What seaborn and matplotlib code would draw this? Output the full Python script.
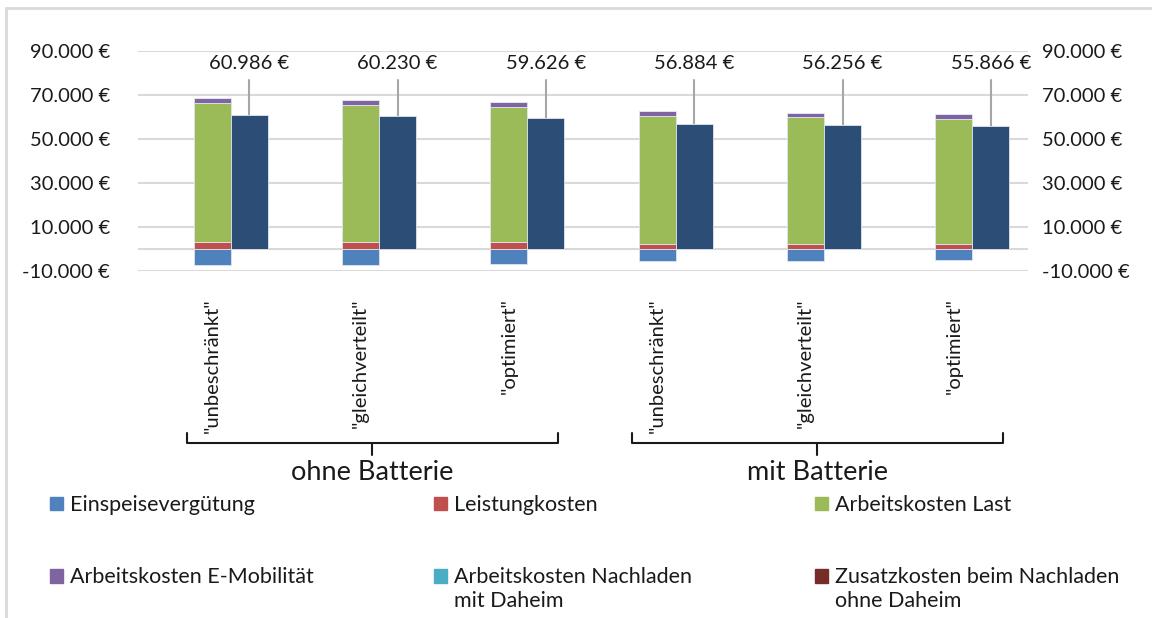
import numpy as np
import seaborn as sns
import matplotlib.pyplot as plt
from matplotlib.patches import Rectangle, Patch
from matplotlib.lines import Line2D
from matplotlib.transforms import blended_transform_factory

# data (EUR)
szenarien = ['"unbeschränkt"', '"gleichverteilt"', '"optimiert"',
             '"unbeschränkt"', '"gleichverteilt"', '"optimiert"']
gruppen = ["ohne Batterie", "mit Batterie"]
einspeise = [-7500, -7300, -7000, -5700, -5500, -5300]
leistung = [3200, 3200, 3200, 2100, 2100, 2100]
arbeit_last = [63200, 62200, 61400, 58400, 57700, 56900]
arbeit_emob = [2100, 2100, 2000, 2000, 1900, 2000]
nachladen_daheim = [0, 0, 0, 0, 0, 0]
zusatz_ohne = [0, 0, 0, 0, 0, 0]
gesamt = [60986, 60230, 59626, 56884, 56256, 55866]

sns.set_theme(style="white")
plt.rcParams["font.family"] = ["Lato", "DejaVu Sans"]
txt = "#1a1a1a"
grid_c = "#d9d9d9"

fig = plt.figure(figsize=(11.52, 6.18), dpi=100)
ax = fig.add_axes([138 / 1152, 1 - 270.7 / 618, 890 / 1152, 220 / 618])

x = np.arange(len(szenarien))
w = 0.25
edge = dict(edgecolor="#dfe6ee", linewidth=0.6)

ax.bar(x, einspeise, w, color="#4F81BD", zorder=3, **edge)
bottom = np.zeros(len(x))
for vals, col in [(leistung, "#C0504D"), (arbeit_last, "#9BBB59"),
                  (arbeit_emob, "#8064A2"), (nachladen_daheim, "#4BACC6"),
                  (zusatz_ohne, "#772C2A")]:
    ax.bar(x, vals, w, bottom=bottom, color=col, zorder=3, **edge)
    bottom += np.array(vals)
ax.bar(x + w, gesamt, w, color="#2C4D75", zorder=3, **edge)

# value labels with leader lines
for xi, v in zip(x + w, gesamt):
    ax.plot([xi, xi], [v, 76500], color="#a6a6a6", lw=1.5, zorder=2)
    ax.text(xi, 84300, f"{v:,.0f} €".replace(",", "."), ha="center",
            va="center", fontsize=14.5, color=txt)

ticks = np.arange(-10000, 90001, 20000)
fmt = [f"{t:,.0f} €".replace(",", ".") for t in ticks]
ax.set_ylim(-10000, 90000)
ax.set_xlim(-0.5, len(x) - 0.5)
ax.set_yticks(ticks)
ax.set_yticklabels(fmt, fontsize=14.5, color=txt)
ax.yaxis.grid(True, color=grid_c, lw=1.5, zorder=0)
ax.axhline(0, color=grid_c, lw=1.5, zorder=1)
ax.set_xticks(x)
ax.set_xticklabels(szenarien, rotation=90, fontsize=14.5, color=txt, va="top")
ax.tick_params(axis="x", length=0, pad=20)
ax.tick_params(axis="y", length=0, pad=20)
for s in ax.spines.values():
    s.set_visible(False)

ax2 = ax.twinx()
ax2.set_ylim(ax.get_ylim())
ax2.set_yticks(ticks)
ax2.set_yticklabels(fmt, fontsize=14.5, color=txt)
ax2.tick_params(axis="y", length=0, pad=10)
for s in ax2.spines.values():
    s.set_visible(False)

# group brackets
tr = blended_transform_factory(ax.transData, fig.transFigure)
fy = lambda p: 1 - p / 618
for (i0, i1), name in zip([(0, 2), (3, 5)], gruppen):
    a, b = i0 - 0.17, i1 + 0.33
    m = (a + b) / 2
    fig.add_artist(Line2D([a, a, b, b], [fy(433), fy(443), fy(443), fy(433)],
                          transform=tr, color=txt, lw=1.5))
    fig.add_artist(Line2D([m, m], [fy(443), fy(455)], transform=tr,
                          color=txt, lw=1.5))
    fig.text(m, fy(473), name, transform=tr, ha="center", va="center",
             fontsize=19.5, color=txt)

# legend, three columns (second text lines set below the entry)
cols = [
    [("Einspeisevergütung", "#4F81BD", ""), ("Arbeitskosten E-Mobilität", "#8064A2", "")],
    [("Leistungkosten", "#C0504D", ""), ("Arbeitskosten Nachladen", "#4BACC6", "mit Daheim")],
    [("Arbeitskosten Last", "#9BBB59", ""), ("Zusatzkosten beim Nachladen", "#772C2A", "ohne Daheim")],
]
for xpos, items in zip([50, 434, 815], cols):
    handles = [Patch(color=c) for _, c, _ in items]
    labels = [l for l, _, _ in items]
    fig.legend(handles, labels, loc="upper left",
               bbox_to_anchor=(xpos / 1152, fy(495)), frameon=False,
               fontsize=15.5, labelcolor=txt, handlelength=0.6,
               handleheight=0.6, handletextpad=0.35, labelspacing=2.43,
               borderpad=0, borderaxespad=0)
    for _, _, extra in items:
        if extra:
            fig.text((xpos + 20) / 1152, fy(601), extra, ha="left",
                     va="center", fontsize=15.5, color=txt)

fig.add_artist(Rectangle((6 / 1152, -0.1), 1.2, fy(8) + 0.1,
                         transform=fig.transFigure, fill=False,
                         edgecolor=grid_c, lw=2))

fig.savefig("out.png", dpi=100)
